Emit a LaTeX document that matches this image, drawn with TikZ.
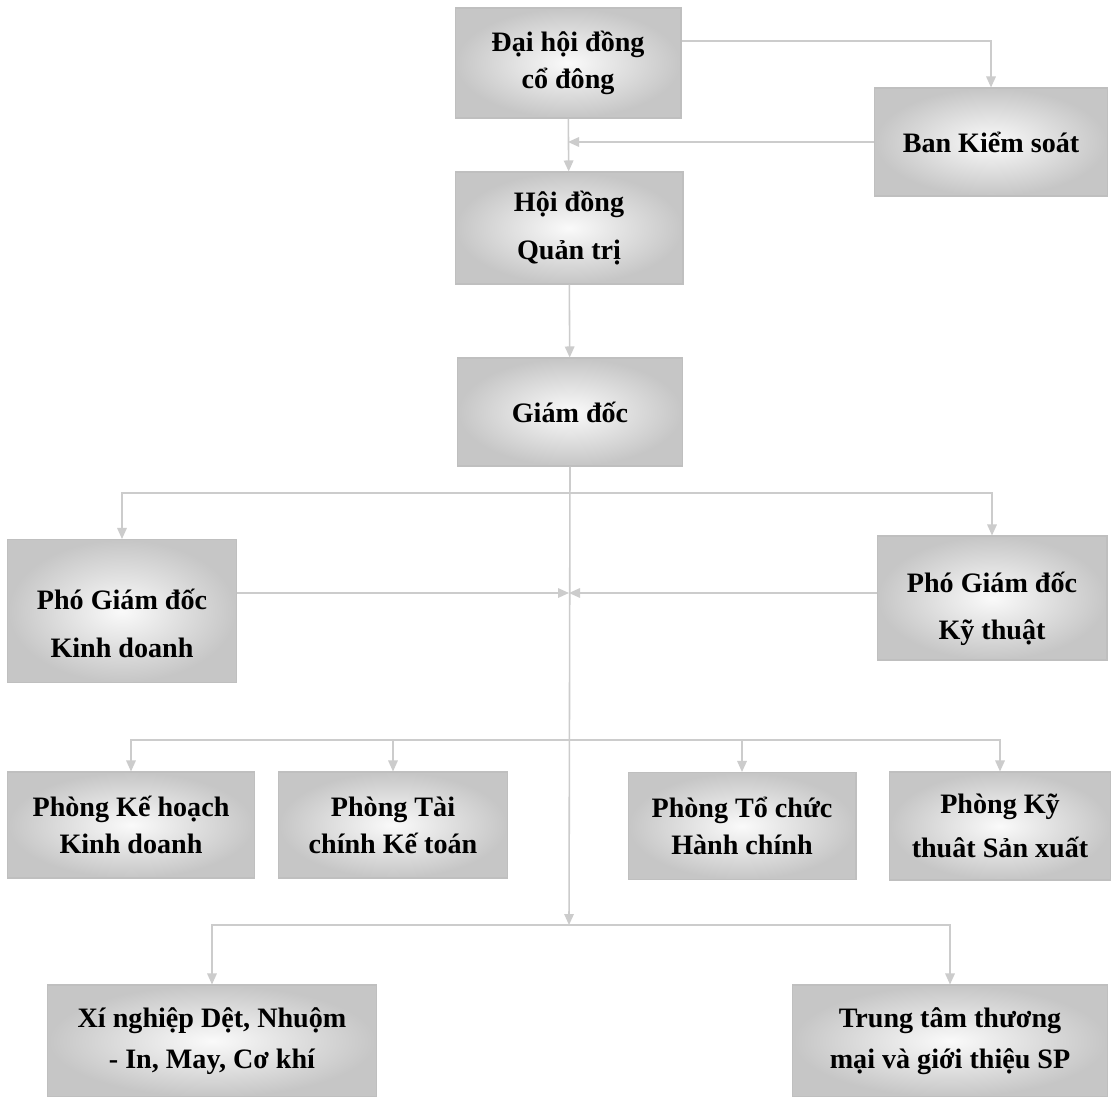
\documentclass[tikz,border=0pt]{standalone}
\usepackage{fontspec}
\setmainfont{Liberation Serif}
\usetikzlibrary{arrows.meta}

\begin{document}
\begin{tikzpicture}[x=0.02cm, y=-0.02cm, >={Triangle[length=2.2mm, width=1.9mm]},
  box/.style={draw=gray!50, line width=0.6pt, inner color=gray!4, outer color=gray!45,
    font=\bfseries\fontsize{16}{21}\selectfont, text=black, align=center,
    minimum height=2.2cm, inner sep=2pt},
  conn/.style={->, draw=gray!40, line width=0.9pt}]

% Canvas
\useasboundingbox (0,0) rectangle (1114,1097);
\fill[white] (0,0) rectangle (1114,1097);

% =========== Top level ===========
\node[box, minimum width=4.52cm] (dhdcd) at (568,63) {Đại hội đồng\\cổ đông};
\node[box, minimum width=4.66cm, minimum height=2.16cm] (bks) at (991,142) {Ban Kiểm soát};
\node[box, minimum width=4.56cm, minimum height=2.24cm] (hdqt) at (569,228) {Hội đồng\\[6pt]Quản trị};
\node[box, minimum width=4.5cm, minimum height=2.16cm] (gd) at (570,412) {Giám đốc};

% =========== Deputy directors ===========
\node[box, minimum width=4.58cm, minimum height=2.86cm] (pgdkd) at (122,611) {\rule{0pt}{26pt}Phó Giám đốc\\[6pt]Kinh doanh};
\node[box, minimum width=4.6cm, minimum height=2.48cm] (pgdkt) at (992,598) {\rule{0pt}{24pt}Phó Giám đốc\\[6pt]Kỹ thuật};

% =========== Departments ===========
\node[box, minimum width=4.94cm, minimum height=2.12cm] (pkhkd) at (131,825) {Phòng Kế hoạch\\Kinh doanh};
\node[box, minimum width=4.58cm, minimum height=2.12cm] (ptckt) at (393,825) {Phòng Tài\\chính Kế toán};
\node[box, minimum width=4.56cm, minimum height=2.14cm] (ptchc) at (742,826) {Phòng Tổ chức\\Hành chính};
\node[box, minimum width=4.42cm, minimum height=2.16cm] (pktsx) at (1000,826) {Phòng Kỹ\\[4pt]thuât Sản xuất};

% =========== Units ===========
\node[box, minimum width=6.58cm, minimum height=2.24cm] (xn) at (212,1041) {Xí nghiệp Dệt, Nhuộm\\[2pt]- In, May, Cơ khí};
\node[box, minimum width=6.3cm, minimum height=2.24cm] (tt) at (950,1041) {Trung tâm thương\\[2pt]mại và giới thiệu SP};

% Junctions on the main axis
\coordinate (jTop) at (569,493);
\coordinate (jPgd) at (569,593);
\coordinate (jMid) at (569,740);
\coordinate (jBot) at (569,925);

% =========== Connectors ===========
\draw[conn] ([yshift=0.44cm]dhdcd.east) -| (bks.north);
\draw[conn] (bks.west) -- (bks.west -| dhdcd.south);
\draw[conn] (dhdcd) -- (hdqt);
\draw[conn] (hdqt) -- (gd);
\draw[conn] (gd.south) -- (jBot);

\draw[conn] (jTop) -| (pgdkd.north);
\draw[conn] (jTop) -| (pgdkt.north);
\draw[conn] (pgdkd.east |- jPgd) -- (jPgd);
\draw[conn] (pgdkt.west |- jPgd) -- (jPgd);

\foreach \n in {pkhkd, ptckt, ptchc, pktsx}
  \draw[conn] (jMid) -| (\n.north);

\draw[conn] (jBot) -| (xn.north);
\draw[conn] (jBot) -| (tt.north);

\end{tikzpicture}
\end{document}
